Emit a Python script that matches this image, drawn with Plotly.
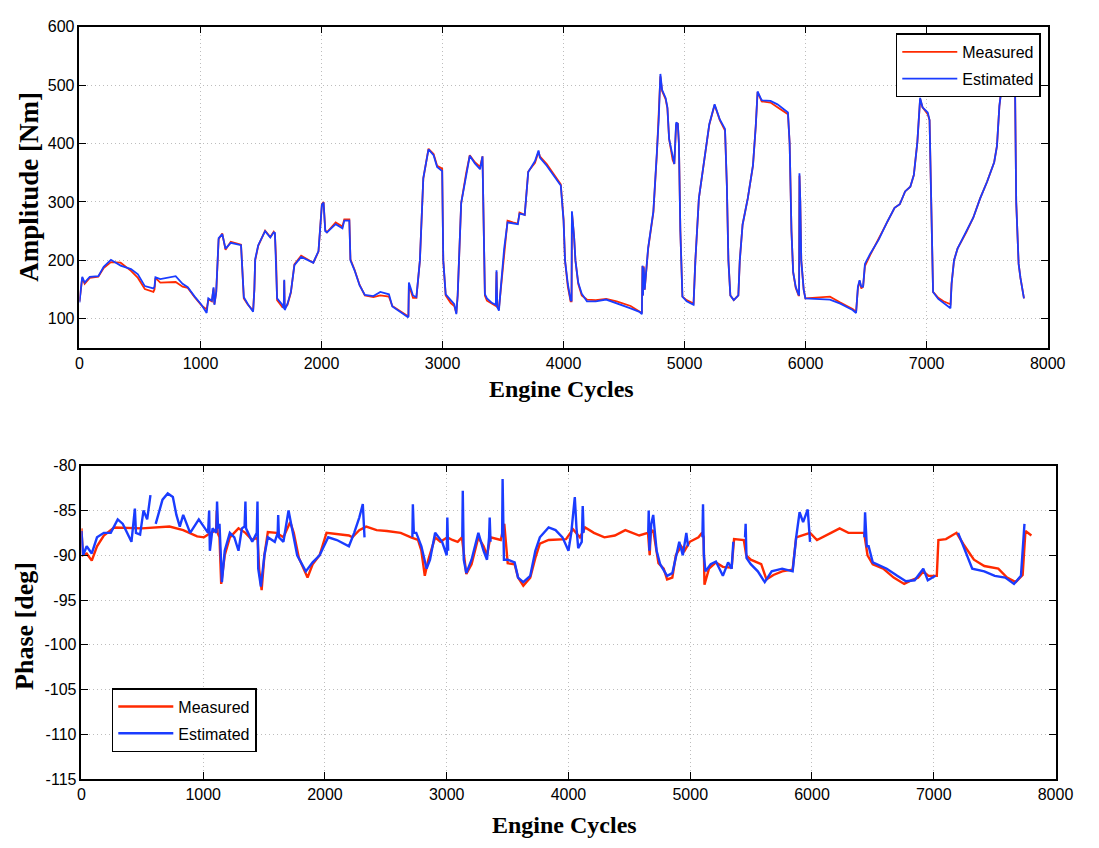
import plotly.graph_objects as go

# ---------------- Top panel: amplitude ----------------
amp_x = [0, 10, 23, 43, 85, 156, 200, 260, 340, 426, 483, 540, 611, 620, 628, 668, 795, 852, 895, 952,
         1008, 1051, 1065, 1094, 1108, 1115, 1130, 1150, 1180, 1207, 1250, 1335, 1344, 1358, 1392, 1435, 1445, 1452, 1477, 1534,
         1577, 1605, 1615, 1625, 1633, 1676, 1688, 1692, 1696, 1719, 1747, 1776, 1832, 1932, 1975, 2003, 2017, 2031, 2045, 2117,
         2173, 2188, 2230, 2239, 2273, 2315, 2358, 2429, 2486, 2557, 2585, 2713, 2718, 2722, 2756, 2784, 2813, 2841, 2884, 2926,
         2955, 2997, 3006, 3026, 3068, 3097, 3114, 3125, 3154, 3196, 3225, 3267, 3310, 3330, 3338, 3350, 3367, 3410, 3440, 3446,
         3452, 3466, 3480, 3509, 3537, 3580, 3622, 3636, 3679, 3708, 3764, 3793, 3804, 3861, 3919, 3977, 4000, 4012, 4035, 4058,
         4066, 4069, 4087, 4098, 4121, 4150, 4193, 4266, 4352, 4439, 4554, 4627, 4647, 4652, 4656, 4662, 4670, 4699, 4742, 4771,
         4786, 4800, 4814, 4843, 4858, 4872, 4901, 4915, 4930, 4944, 4953, 4965, 4982, 5017, 5074, 5089, 5118, 5161, 5204, 5248,
         5291, 5334, 5349, 5362, 5378, 5406, 5444, 5456, 5479, 5522, 5565, 5588, 5603, 5637, 5710, 5767, 5854, 5868, 5883, 5897,
         5918, 5941, 5946, 5949, 5956, 5964, 5984, 5998, 6085, 6201, 6287, 6388, 6417, 6432, 6446, 6460, 6475, 6490, 6533, 6605,
         6677, 6735, 6778, 6822, 6865, 6894, 6923, 6946, 6966, 7009, 7024, 7038, 7053, 7096, 7139, 7197, 7206, 7226, 7255, 7327,
         7385, 7442, 7500, 7558, 7581, 7601, 7616, 7645, 7731, 7740, 7760, 7775, 7804]

amp_measured = [130, 150, 170, 160, 170, 172, 187, 197, 196, 182, 170, 151, 146, 150, 170, 162, 163, 155, 153, 137,
                123, 116, 133, 130, 152, 125, 145, 236, 246, 218, 232, 227, 180, 135, 124, 114, 150, 200, 225, 251,
                240, 249, 245, 200, 132, 120, 120, 165, 118, 124, 145, 193, 208, 196, 215, 296, 300, 252, 248, 265,
                258, 270, 270, 202, 184, 158, 140, 137, 140, 138, 122, 104, 104, 158, 136, 136, 200, 340, 391, 382,
                362, 357, 200, 140, 127, 122, 110, 140, 298, 350, 380, 368, 360, 378, 250, 140, 131, 125, 122, 180,
                120, 118, 150, 218, 268, 265, 263, 282, 278, 352, 367, 386, 378, 365, 348, 330, 270, 200, 155, 130,
                130, 282, 240, 200, 160, 140, 133, 132, 134, 130, 122, 113, 110, 190, 140, 190, 150, 220, 282, 382,
                440, 515, 490, 476, 460, 408, 372, 365, 432, 435, 400, 250, 138, 132, 126, 200, 306, 368, 432, 466,
                440, 422, 330, 200, 140, 132, 140, 200, 261, 306, 362, 430, 488, 472, 470, 462, 450, 400, 250, 180,
                153, 140, 140, 345, 300, 200, 150, 135, 136, 138, 128, 117, 112, 152, 165, 152, 155, 190, 209, 238,
                267, 290, 296, 318, 326, 346, 402, 476, 462, 450, 440, 300, 146, 136, 130, 125, 160, 200, 220, 248,
                273, 306, 335, 368, 396, 464, 490, 482, 482, 300, 194, 170, 135]

amp_estimated = [128, 150, 172, 162, 172, 173, 189, 201, 191, 185, 176, 156, 152, 155, 171, 168, 173, 160, 154, 138,
                 124, 110, 135, 131, 154, 124, 146, 238, 245, 220, 230, 226, 180, 137, 125, 112, 150, 202, 226, 250,
                 239, 248, 247, 200, 135, 124, 118, 167, 115, 126, 146, 192, 206, 196, 216, 295, 299, 250, 248, 262,
                 255, 268, 268, 200, 183, 157, 141, 139, 146, 142, 121, 103, 104, 162, 140, 137, 200, 341, 390, 380,
                 360, 353, 200, 142, 132, 125, 108, 140, 298, 349, 379, 366, 356, 378, 250, 142, 135, 127, 124, 183,
                 120, 114, 150, 220, 265, 263, 262, 280, 278, 351, 370, 388, 376, 362, 346, 328, 268, 200, 160, 132,
                 130, 284, 240, 200, 162, 143, 130, 130, 133, 127, 118, 112, 108, 191, 140, 188, 150, 222, 284, 385,
                 440, 519, 492, 478, 462, 408, 374, 365, 436, 434, 400, 250, 138, 130, 124, 200, 306, 368, 433, 467,
                 441, 425, 330, 200, 140, 132, 140, 200, 261, 306, 363, 430, 489, 474, 473, 467, 453, 400, 250, 180,
                 155, 142, 140, 349, 300, 200, 150, 135, 134, 133, 126, 115, 110, 155, 166, 155, 155, 194, 211, 236,
                 267, 290, 296, 318, 326, 346, 402, 478, 462, 453, 440, 300, 146, 134, 127, 118, 160, 200, 220, 250,
                 273, 306, 335, 368, 396, 464, 490, 482, 482, 300, 194, 170, 135]

# ---------------- Bottom panel: phase ----------------
ph_meas_x = [0, 12, 43, 85, 128, 184, 269, 496, 723, 836, 950, 1006, 1063, 1106, 1112, 1118, 1134, 1148, 1177, 1219,
             1290, 1347, 1403, 1446, 1460, 1480, 1503, 1531, 1602, 1659, 1715, 1744, 1786, 1828, 1857, 1899, 1956, 2013, 2084, 2197,
             2225, 2282, 2339, 2424, 2509, 2622, 2707, 2764, 2792, 2820, 2849, 2905, 2948, 3005, 3047, 3090, 3125, 3161, 3204, 3260,
             3303, 3331, 3359, 3444, 3473, 3501, 3558, 3586, 3629, 3686, 3728, 3765, 3837, 3980, 4037, 4094, 4137, 4209, 4295, 4381,
             4467, 4581, 4653, 4667, 4675, 4696, 4739, 4782, 4810, 4853, 4882, 4925, 4953, 4996, 5068, 5097, 5110, 5117, 5154, 5211,
             5268, 5340, 5360, 5440, 5460, 5497, 5583, 5626, 5683, 5755, 5841, 5870, 5984, 6041, 6156, 6227, 6299, 6428, 6456, 6499,
             6585, 6671, 6757, 6814, 6871, 6914, 6957, 7025, 7038, 7100, 7187, 7245, 7330, 7415, 7530, 7602, 7673, 7730, 7753, 7802]

ph_measured = [-87.0, -90.0, -89.8, -90.6, -89.0, -87.8, -86.9, -87.0, -86.8, -87.2, -87.9, -88.0, -87.5, -87.2, -85.0, -87.5, -88.0, -93.2, -90.0, -88.0,
               -87.0, -87.5, -88.3, -88.0, -91.6, -93.9, -90.0, -87.4, -87.5, -88.0, -86.3, -87.5, -90.3, -91.5, -92.5, -91.0, -90.0, -87.5, -87.6, -87.8,
               -88.0, -87.2, -86.8, -87.2, -87.3, -87.5, -88.0, -88.3, -89.5, -92.3, -90.5, -88.0, -88.5, -88.0, -88.3, -88.5, -88.0, -92.1, -91.0, -88.0,
               -89.0, -90.0, -88.0, -88.3, -86.5, -90.9, -91.0, -92.5, -93.4, -92.5, -90.3, -88.7, -88.3, -88.2, -87.1, -88.0, -86.9, -87.5, -88.0, -87.8,
               -87.2, -87.8, -87.5, -90.0, -87.5, -87.2, -90.9, -91.5, -92.7, -92.5, -90.0, -89.0, -89.5, -88.5, -88.0, -87.5, -88.0, -93.3, -91.5, -90.8,
               -91.3, -91.4, -88.2, -88.3, -90.0, -90.5, -91.0, -92.7, -92.2, -91.8, -91.6, -88.0, -87.5, -88.3, -87.5, -87.0, -87.5, -87.5, -90.0, -91.0,
               -91.5, -92.5, -93.2, -92.8, -92.5, -91.8, -92.3, -92.3, -88.3, -88.2, -87.5, -88.8, -90.5, -91.2, -91.5, -92.5, -93.0, -92.2, -87.3, -87.8]

ph_est_x = [0, 14, 43, 85, 128, 184, 241, 298, 340, 411, 430, 439, 448, 482, 510, 540, 567, 590, 610, 666,
            709, 751, 780, 808, 836, 893, 964, 1006, 1040, 1049, 1055, 1077, 1108, 1114, 1122, 1134, 1154, 1177, 1219, 1256,
            1290, 1318, 1340, 1347, 1352, 1403, 1440, 1446, 1452, 1474, 1503, 1531, 1588, 1612, 1616, 1622, 1659, 1701, 1729, 1772,
            1843, 1899, 1956, 2027, 2098, 2169, 2197, 2240, 2282, 2311, 2325, 2500, 2718, 2722, 2730, 2750, 2792, 2835, 2863, 2905,
            2962, 3000, 3005, 3012, 3070, 3128, 3132, 3140, 3161, 3204, 3260, 3303, 3331, 3348, 3353, 3360, 3410, 3455, 3459, 3470,
            3501, 3558, 3586, 3629, 3686, 3728, 3765, 3837, 3894, 3951, 4000, 4023, 4045, 4052, 4066, 4080, 4109, 4117, 4125, 4400,
            4655, 4659, 4665, 4680, 4696, 4724, 4753, 4810, 4853, 4882, 4910, 4939, 4968, 4982, 5050, 5100, 5105, 5112, 5125, 5168,
            5211, 5268, 5311, 5340, 5354, 5400, 5450, 5455, 5462, 5497, 5555, 5612, 5669, 5755, 5841, 5870, 5898, 5927, 5965, 5984,
            6200, 6430, 6436, 6450, 6465, 6499, 6614, 6700, 6771, 6843, 6914, 6951, 7014, 7100, 7200, 7259, 7316, 7415, 7501, 7587,
            7659, 7716, 7740, 7745]

ph_estimated = [-87.3, -90.0, -89.0, -89.8, -88.0, -87.5, -87.5, -86.0, -86.5, -88.5, -86.0, -84.8, -87.5, -87.7, -85.0, -86.0, -83.3, None, -86.5, -83.8,
                -83.1, -83.5, -85.5, -86.8, -85.5, -87.5, -86.0, -86.8, -87.5, -85.0, -89.5, -87.0, -87.5, -84.0, -87.0, -86.5, -93.0, -89.5, -87.5, -88.0,
                -89.5, -87.0, -86.8, -84.0, -87.0, -88.5, -87.5, -84.0, -91.5, -93.5, -90.0, -88.0, -88.5, -87.5, -85.5, -88.0, -88.5, -85.0, -87.0, -90.0,
                -91.8, -90.8, -90.0, -88.0, -88.3, -88.8, -89.0, -87.5, -85.8, -84.3, -88.0, None, -88.0, -84.3, -87.5, -87.5, -89.0, -91.5, -90.5, -87.5,
                -88.5, -90.0, -85.8, -89.5, None, -88.0, -82.8, -90.5, -92.0, -90.5, -87.5, -89.5, -90.5, -88.0, -85.8, -88.5, None, -88.0, -81.5, -90.5,
                -90.5, -90.8, -92.5, -93.0, -92.3, -89.5, -88.0, -86.9, -87.2, -88.0, -89.5, -87.5, -84.5, -83.5, -87.0, -89.2, -88.5, -84.5, -87.5, None,
                -87.5, -85.0, -89.5, -86.5, -85.5, -89.5, -91.0, -92.3, -92.0, -90.0, -88.5, -90.0, -87.5, -89.0, None, -88.0, -84.3, -90.0, -91.8, -91.0,
                -90.7, -92.3, -90.8, -91.5, -88.5, None, -88.0, -86.5, -90.3, -91.0, -91.8, -93.0, -91.8, -91.5, -91.8, -88.0, -85.2, -86.3, -84.9, -88.5,
                None, -88.0, -85.2, -89.0, -89.0, -90.8, -91.5, -92.3, -92.9, -92.8, -91.5, -92.8, -92.3, None, -87.5, -89.5, -91.5, -91.8, -92.3, -92.5,
                -93.2, -92.3, -88.0, -86.5]

# ---------------- Axis ticks ----------------
x_ticks = [0, 1000, 2000, 3000, 4000, 5000, 6000, 7000, 8000]
x_ticktext = ["0", "1000", "2000", "3000", "4000", "5000", "6000", "7000", "8000"]
amp_ticks = [100, 200, 300, 400, 500, 600]
amp_ticktext = ["100", "200", "300", "400", "500", "600"]
ph_ticks = [-115, -110, -105, -100, -95, -90, -85, -80]
ph_ticktext = ["-115", "-110", "-105", "-100", "-95", "-90", "-85", "-80"]

RED = "#ff2a00"
BLUE = "#1a3cff"
W, H = 1099, 848

fig = go.Figure()
fig.add_trace(go.Scatter(x=amp_x, y=amp_measured, mode="lines", name="Measured",
                         line=dict(color=RED, width=1.8), xaxis="x", yaxis="y",
                         legend="legend", legendgroup="m"))
fig.add_trace(go.Scatter(x=amp_x, y=amp_estimated, mode="lines", name="Estimated",
                         line=dict(color=BLUE, width=1.8), xaxis="x", yaxis="y",
                         legend="legend", legendgroup="e"))
fig.add_trace(go.Scatter(x=ph_meas_x, y=ph_measured, mode="lines", name="Measured",
                         line=dict(color=RED, width=2.4), xaxis="x2", yaxis="y2",
                         legend="legend2", legendgroup="m2"))
fig.add_trace(go.Scatter(x=ph_est_x, y=ph_estimated, mode="lines", name="Estimated",
                         line=dict(color=BLUE, width=2.4), xaxis="x2", yaxis="y2",
                         legend="legend2", legendgroup="e2", connectgaps=False))

tick_font = dict(family="Liberation Sans, Arial", size=16, color="black")
axis_common = dict(showline=True, linecolor="black", linewidth=1.5, mirror="ticks",
                   ticks="inside", ticklen=7, tickwidth=1.2, tickcolor="black",
                   showgrid=True, gridcolor="#bdbdbd", griddash="1px,3px", gridwidth=1,
                   zeroline=False, tickfont=tick_font)

legend_font = dict(family="Liberation Sans, Arial", size=16, color="black")
fig.update_layout(
    width=W, height=H,
    margin=dict(l=0, r=0, t=0, b=0),
    paper_bgcolor="white", plot_bgcolor="white",
    xaxis=dict(domain=[77 / W, 1065 / W], anchor="y", range=[0, 8000],
               tickvals=x_ticks, ticktext=x_ticktext, **axis_common),
    yaxis=dict(domain=[1 - 347 / H, 1 - 19 / H], anchor="x", range=[50, 600],
               tickvals=amp_ticks, ticktext=amp_ticktext, **axis_common),
    xaxis2=dict(domain=[79 / W, 1073 / W], anchor="y2", range=[0, 8000],
                tickvals=x_ticks, ticktext=x_ticktext, **axis_common),
    yaxis2=dict(domain=[1 - 787 / H, 1 - 467 / H], anchor="x2", range=[-115, -80],
                tickvals=ph_ticks, ticktext=ph_ticktext, **axis_common),
    legend=dict(x=910 / W, y=1 - 26 / H, xanchor="left", yanchor="top",
                bgcolor="white", bordercolor="black", borderwidth=1.5,
                font=legend_font, itemwidth=55,
                traceorder="grouped", tracegroupgap=3),
    legend2=dict(x=110 / W, y=1 - 694 / H, xanchor="left", yanchor="top",
                 bgcolor="white", bordercolor="black", borderwidth=1.5,
                 font=legend_font, itemwidth=55,
                 traceorder="grouped", tracegroupgap=3),
    showlegend=True,
)

title_font = dict(family="Liberation Serif, Times New Roman", size=24, color="black")
annots = [
    dict(text="<b>Engine Cycles</b>", x=569 / W, y=1 - 389 / H, font=title_font, textangle=0),
    dict(text="<b>Engine Cycles</b>", x=572 / W, y=1 - 834 / H, font=title_font, textangle=0),
    dict(text="<b>Amplitude [Nm]</b>", x=26 / W, y=1 - 182 / H,
         font=dict(family="Liberation Serif, Times New Roman", size=27, color="black"), textangle=-90),
    dict(text="<b>Phase [deg]</b>", x=21 / W, y=1 - 631 / H,
         font=dict(family="Liberation Serif, Times New Roman", size=26, color="black"), textangle=-90),
]
for a in annots:
    fig.add_annotation(xref="paper", yref="paper", showarrow=False,
                       xanchor="center", yanchor="middle", **a)

fig.write_html("out.html")
